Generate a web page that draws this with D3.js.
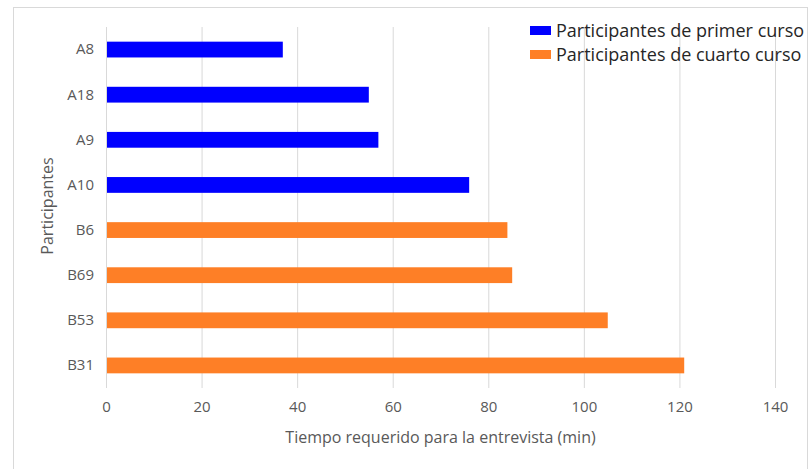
<!DOCTYPE html>
<html>
<head>
<meta charset="utf-8">
<script src="https://cdn.jsdelivr.net/npm/d3@7"></script>
<style>
	body { margin:0; background:#fff; }
	#chart { width:810px; height:469px; }
	text { font-family: "Open Sans", "Noto Sans", sans-serif; }
</style>
</head>
<body>
<div id="chart"></div>
<script>
// data
const participantes = ["A8","A18","A9","A10","B6","B69","B53","B31"];
const tiempos = [37, 55, 57, 76, 84, 85, 105, 121];
const grupos = ["primer","primer","primer","primer","cuarto","cuarto","cuarto","cuarto"];
const xTicks = [0,20,40,60,80,100,120,140];
const leyenda = ["Participantes de primer curso","Participantes de cuarto curso"];

function grafico(){

	let width = 810, height = 469;
	let margin = {top:27, right:35, bottom:81, left:106};

	let svg = d3.select("#chart").append("svg")
		.attr("width", width)
		.attr("height", height);

	// chart frame
	svg.append("rect")
		.attr("x", 13.5).attr("y", 7.5)
		.attr("width", 794).attr("height", 470)
		.attr("fill", "none")
		.attr("stroke", "#d9d9d9");

	let data = participantes.map((p,i)=>({p:p, v:tiempos[i], g:grupos[i]}));

	const xScale = d3.scaleLinear()
		.domain([0,140])
		.range([margin.left, width-margin.right]);

	const yScale = d3.scaleBand()
		.domain(participantes)
		.range([margin.top, height-margin.bottom])
		.paddingInner(0.65)
		.paddingOuter(0.325);

	const color = d3.scaleOrdinal()
		.domain(["primer","cuarto"])
		.range(["#0000ff","#fe7f26"]);

	// gridlines
	svg.append("g")
		.selectAll("line")
		.data(xTicks.slice(1))
		.enter().append("line")
		.attr("x1", d=>xScale(d)+0.5).attr("x2", d=>xScale(d)+0.5)
		.attr("y1", margin.top).attr("y2", height-margin.bottom)
		.attr("stroke", "#d9d9d9");

	// x axis
	const xAxis = d3.axisBottom(xScale)
		.tickValues(xTicks)
		.tickSize(0)
		.tickPadding(13);
	let gx = svg.append("g")
		.attr("transform", `translate(0,${height-margin.bottom})`)
		.call(xAxis);
	gx.select(".domain").remove();
	gx.selectAll("text").attr("fill","#595959").attr("font-size","15px");

	// y axis
	const yAxis = d3.axisLeft(yScale).tickSize(0).tickPadding(12);
	let gy = svg.append("g")
		.attr("transform", `translate(${margin.left},0)`)
		.call(yAxis);
	gy.select(".domain").remove();
	gy.selectAll("text").attr("fill","#595959").attr("font-size","15px");

	svg.append("line")
		.attr("x1", margin.left+0.5).attr("x2", margin.left+0.5)
		.attr("y1", margin.top).attr("y2", height-margin.bottom)
		.attr("stroke", "#d9d9d9");

	// bars
	svg.append("g")
		.selectAll("rect")
		.data(data)
		.enter().append("rect")
		.attr("x", xScale(0)+1)
		.attr("y", d=>yScale(d.p))
		.attr("width", d=>xScale(d.v)-xScale(0)-1)
		.attr("height", yScale.bandwidth())
		.attr("fill", d=>color(d.g));

	// axis titles
	svg.append("text")
		.attr("x", (xScale(0)+xScale(140))/2)
		.attr("y", 443)
		.attr("text-anchor","middle")
		.attr("fill","#595959")
		.attr("font-size","16px")
		.text("Tiempo requerido para la entrevista (min)");

	svg.append("text")
		.attr("transform", "translate(53,206) rotate(-90)")
		.attr("text-anchor","middle")
		.attr("fill","#595959")
		.attr("font-size","16px")
		.text("Participantes");

	// legend
	let leg = svg.append("g").selectAll("g")
		.data(leyenda)
		.enter().append("g")
		.attr("transform", (d,i)=>`translate(530,${26+i*24})`);
	leg.append("rect")
		.attr("width", 21).attr("height", 9)
		.attr("fill", (d,i)=>color(i==0?"primer":"cuarto"));
	leg.append("text")
		.attr("x", 26).attr("y", 11)
		.attr("fill","#262626")
		.attr("font-size","18px")
		.text(d=>d);
}

grafico();
</script>
</body>
</html>
